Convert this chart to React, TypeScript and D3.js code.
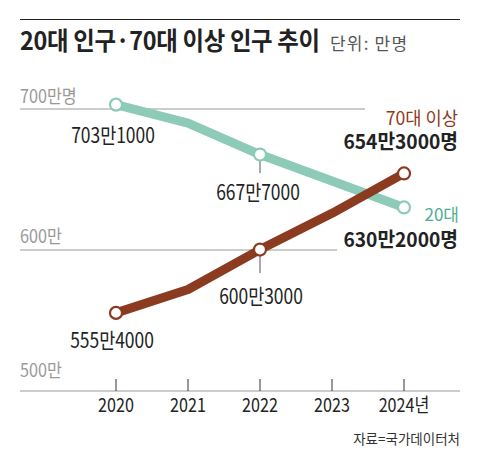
import React from "react";
import * as d3 from "d3";

const years = [2020, 2021, 2022, 2023, 2024];
const yearLabels = ["2020", "2021", "2022", "2023", "2024년"];
const youth = [703.1, 690, 667.7, 649, 630.2];
const elderly = [555.4, 572, 600.3, 626, 654.3];
const gridValues = [700, 600, 500];
const gridLabels = ["700만명", "600만", "500만"];

const FONT = "'Noto Sans CJK KR', 'Noto Sans', sans-serif";
const GREEN = "#8dcab8";
const GREEN_TEXT = "#4fae92";
const BROWN = "#8b3b20";

function T(props: {
  x: number;
  y: number;
  size: number;
  fill: string;
  sx?: number;
  ls?: number;
  weight?: number | string;
  anchor?: "start" | "middle" | "end";
  children: React.ReactNode;
}) {
  const { x, y, size, fill, sx = 1, ls = 0, weight = 400, anchor = "start", children } = props;
  return (
    <text
      transform={`translate(${x},${y}) scale(${sx},1)`}
      fontSize={size}
      fill={fill}
      fontWeight={weight}
      textAnchor={anchor}
      fontFamily={FONT}
      letterSpacing={ls}
    >
      {children}
    </text>
  );
}

export default function App() {
  const W = 480;
  const H = 459;
  const x = d3.scaleLinear().domain([2020, 2024]).range([116, 404]);
  const y = d3.scaleLinear().domain([500, 700]).range([391, 109]);
  const line = d3
    .line<number>()
    .x((_, i) => x(years[i]))
    .y((d) => y(d));

  const gridEnds = [365, 337, 460];
  const gridLabelY = [103, 243, 377];

  return (
    <svg
      width={W}
      height={H}
      style={{ position: "absolute", left: 0, top: 0, background: "#fff" }}
    >
      <rect width={W} height={H} fill="#fff" />
      <line x1={20} x2={460} y1={19.5} y2={19.5} stroke="#222" strokeWidth={1} />
      <T x={20} y={50} size={25} sx={0.935} ls={-0.3} fill="#222" weight={700}>
        20대 인구·70대 이상 인구 추이
      </T>
      <T x={330} y={50} size={17} ls={1.2} fill="#555">
        단위: 만명
      </T>

      {gridValues.map((v, i) => (
        <g key={v}>
          <line
            x1={20}
            x2={gridEnds[i]}
            y1={y(v)}
            y2={y(v)}
            stroke="#999"
            strokeWidth={1}
          />
          <T x={20} y={gridLabelY[i]} size={18} sx={0.9} fill="#999">
            {gridLabels[i]}
          </T>
        </g>
      ))}

      {years.map((yr, i) => (
        <g key={yr}>
          <line x1={x(yr)} x2={x(yr)} y1={379} y2={391} stroke="#333" strokeWidth={1} />
          <T x={x(yr)} y={412} size={19} sx={0.85} fill="#222" anchor="middle">
            {yearLabels[i]}
          </T>
        </g>
      ))}

      {/* leader lines */}
      <line x1={x(2022)} x2={x(2022)} y1={y(youth[2])} y2={173} stroke="#555" strokeWidth={1} />
      <line x1={x(2022)} x2={x(2022)} y1={y(elderly[2])} y2={273} stroke="#555" strokeWidth={1} />

      <path d={line(youth) || ""} fill="none" stroke={GREEN} strokeWidth={9} strokeLinejoin="round" />
      <path d={line(elderly) || ""} fill="none" stroke={BROWN} strokeWidth={9} strokeLinejoin="round" />

      {[0, 2, 4].map((i) => (
        <g key={"c" + i}>
          <circle cx={x(years[i])} cy={y(youth[i])} r={6} fill="#fff" stroke={GREEN} strokeWidth={2.2} />
          <circle cx={x(years[i])} cy={y(elderly[i])} r={6} fill="#fff" stroke={BROWN} strokeWidth={2.2} />
        </g>
      ))}

      <T x={113} y={143} size={21} sx={0.83} fill="#222" anchor="middle">703만1000</T>
      <T x={258} y={200} size={21} sx={0.83} fill="#222" anchor="middle">667만7000</T>
      <T x={261} y={304} size={21} sx={0.83} fill="#222" anchor="middle">600만3000</T>
      <T x={112} y={348} size={21} sx={0.83} fill="#222" anchor="middle">555만4000</T>

      <T x={458} y={125} size={18} sx={0.98} fill={BROWN} anchor="end">70대 이상</T>
      <T x={458} y={149} size={20} sx={0.96} fill="#222" weight={700} anchor="end">654만3000명</T>
      <T x={459} y={221} size={17} fill={GREEN_TEXT} anchor="end">20대</T>
      <T x={458} y={247} size={20} sx={0.96} fill="#222" weight={700} anchor="end">630만2000명</T>

      <T x={460} y={444} size={13.5} fill="#333" anchor="end">자료=국가데이터처</T>
    </svg>
  );
}
